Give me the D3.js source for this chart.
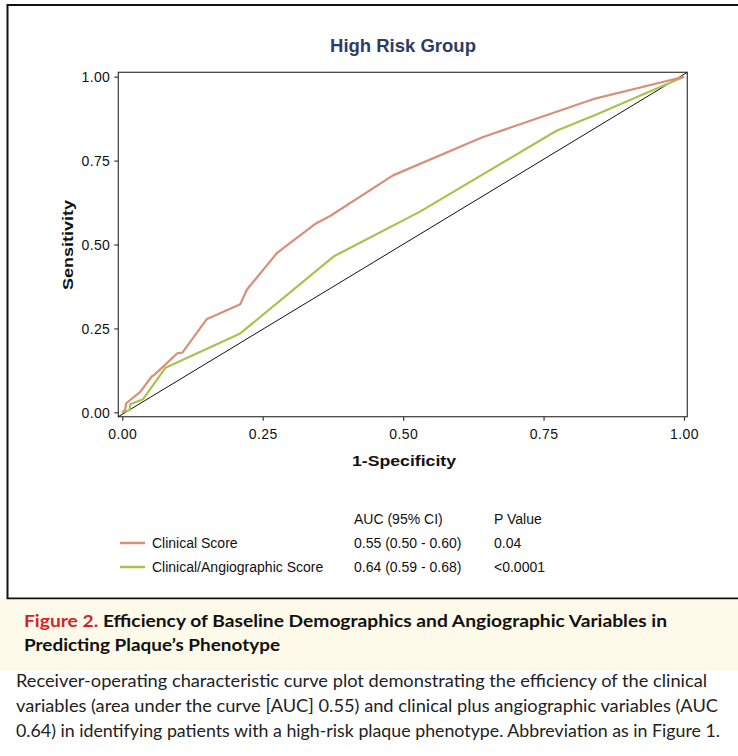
<!DOCTYPE html>
<html><head><meta charset="utf-8">
<script src="https://cdn.jsdelivr.net/npm/d3@7"></script>
<style>body{margin:0;background:#fff}svg{display:block}</style>
</head><body>
<script>
// ---- data ----
const chartTitle = "High Risk Group";
const xTicks = [0, 0.25, 0.5, 0.75, 1];
const yTicks = [0, 0.25, 0.5, 0.75, 1];
const clinicalFPR = [0, 0.005, 0.007, 0.032, 0.052, 0.058, 0.098, 0.107, 0.150, 0.210, 0.222, 0.275, 0.343, 0.370, 0.482, 0.640, 0.838, 1];
const clinicalTPR = [0, 0.007, 0.027, 0.061, 0.106, 0.113, 0.176, 0.178, 0.277, 0.322, 0.366, 0.474, 0.561, 0.585, 0.706, 0.819, 0.933, 1];
const angioFPR = [0, 0.013, 0.014, 0.037, 0.077, 0.210, 0.376, 0.530, 0.773, 0.842, 1];
const angioTPR = [0, 0.006, 0.024, 0.039, 0.133, 0.235, 0.464, 0.598, 0.839, 0.886, 1];
const seriesNames = ["Clinical Score", "Clinical/Angiographic Score"];
const seriesAUC = ["0.55 (0.50 - 0.60)", "0.64 (0.59 - 0.68)"];
const seriesP = ["0.04", "<0.0001"];
const seriesColors = ["#d98f78", "#a7c34d"];
const captionHead1 = ["Figure 2.", " Efficiency of Baseline Demographics and Angiographic Variables in"];
const captionHead2 = "Predicting Plaque\u2019s Phenotype";
const captionBody = [
  "Receiver-operating characteristic curve plot demonstrating the efficiency of the clinical",
  "variables (area under the curve [AUC] 0.55) and clinical plus angiographic variables (AUC",
  "0.64) in identifying patients with a high-risk plaque phenotype. Abbreviation as in Figure 1."
];

const W = 738, H = 756;
const svg = d3.select("body").append("svg").attr("width", W).attr("height", H);
svg.append("rect").attr("width", W).attr("height", H).attr("fill", "#fff");

// outer frame
svg.append("path").attr("d", "M738,5H7.5V598.5H738").attr("fill", "none").attr("stroke", "#111").attr("stroke-width", 2);
// caption background
svg.append("rect").attr("x", 0).attr("y", 599.5).attr("width", W).attr("height", 71.5).attr("fill", "#fefaea");

const x = d3.scaleLinear().domain([-0.0071, 1.0059]).range([118.3, 687.3]);
const y = d3.scaleLinear().domain([-0.0131, 1.0131]).range([416.7, 72.3]);

const font = "'Liberation Sans', Arial, Helvetica, sans-serif";

// title
svg.append("text").attr("x", 403).attr("y", 51.5).attr("text-anchor", "middle")
  .attr("font-family", font).attr("font-weight", "bold").attr("font-size", 18.5)
  .attr("fill", "#2e3b66").text(chartTitle);

// plot frame
svg.append("rect").attr("x", x.range()[0]).attr("y", y.range()[1])
  .attr("width", x.range()[1] - x.range()[0]).attr("height", y.range()[0] - y.range()[1])
  .attr("fill", "none").attr("stroke", "#3a3a3a").attr("stroke-width", 1.2);

// axes
const xAxis = svg.append("g").attr("transform", `translate(0,${y.range()[0]})`)
  .call(d3.axisBottom(x).tickValues(xTicks).tickFormat(d3.format(".2f")).tickSize(4).tickPadding(4));
const yAxis = svg.append("g").attr("transform", `translate(${x.range()[0]},0)`)
  .call(d3.axisLeft(y).tickValues(yTicks).tickFormat(d3.format(".2f")).tickSize(4).tickPadding(4));
[xAxis, yAxis].forEach(g => {
  g.select(".domain").remove();
  g.selectAll("line").attr("stroke", "#3a3a3a").attr("stroke-width", 1.2);
  g.selectAll("text").attr("font-family", font).attr("font-size", 14).attr("letter-spacing", 0.4).attr("fill", "#111");
});
xAxis.selectAll("text").attr("dy", "0.71em").attr("y", 12);
yAxis.selectAll("text").attr("x", -8).attr("dy", "0.36em");

// axis titles
svg.append("text").attr("x", 404).attr("y", 466).attr("text-anchor", "middle")
  .attr("font-family", font).attr("font-weight", "bold").attr("font-size", 14.5)
  .attr("textLength", 104).attr("lengthAdjust", "spacingAndGlyphs")
  .attr("fill", "#111").text("1-Specificity");
svg.append("text").attr("transform", "translate(72.5,245) rotate(-90)").attr("text-anchor", "middle")
  .attr("font-family", font).attr("font-weight", "bold").attr("font-size", 14.5)
  .attr("textLength", 90).attr("lengthAdjust", "spacingAndGlyphs")
  .attr("fill", "#111").text("Sensitivity");

// reference diagonal
svg.append("line").attr("x1", x.range()[0]).attr("y1", y.range()[0])
  .attr("x2", x.range()[1]).attr("y2", y.range()[1]).attr("stroke", "#111").attr("stroke-width", 1);

// curves
const line = d3.line().x(d => x(d[0])).y(d => y(d[1]));
const curves = [d3.zip(clinicalFPR, clinicalTPR), d3.zip(angioFPR, angioTPR)];
[1, 0].forEach(i => {
  svg.append("path").datum(curves[i]).attr("d", line).attr("fill", "none")
    .attr("stroke", seriesColors[i]).attr("stroke-width", 2.2).attr("stroke-linejoin", "round");
});

// legend table
const lf = "'Liberation Sans', Arial, sans-serif";
const lfs = 14;
const headY = 523.5, rowY = [547.5, 571.5];
svg.append("text").attr("x", 354).attr("y", headY).attr("font-family", lf).attr("font-size", lfs).attr("fill", "#111").text("AUC (95% CI)");
svg.append("text").attr("x", 494).attr("y", headY).attr("font-family", lf).attr("font-size", lfs).attr("fill", "#111").text("P Value");
seriesNames.forEach((n, i) => {
  svg.append("line").attr("x1", 120).attr("x2", 145).attr("y1", rowY[i] - 4.5).attr("y2", rowY[i] - 4.5)
    .attr("stroke", seriesColors[i]).attr("stroke-width", 2.5);
  svg.append("text").attr("x", 152).attr("y", rowY[i]).attr("font-family", lf).attr("font-size", lfs).attr("fill", "#111").text(n);
  svg.append("text").attr("x", 354).attr("y", rowY[i]).attr("font-family", lf).attr("font-size", lfs).attr("fill", "#111").text(seriesAUC[i]);
  svg.append("text").attr("x", 494).attr("y", rowY[i]).attr("font-family", lf).attr("font-size", lfs).attr("fill", "#111").text(seriesP[i]);
});

// caption
const cf = "Lato, 'Open Sans', sans-serif";
const h1 = svg.append("text").attr("x", 24).attr("y", 627).attr("font-family", cf).attr("font-weight", "bold")
  .attr("font-size", 17).attr("textLength", 643).attr("lengthAdjust", "spacingAndGlyphs");
h1.append("tspan").attr("fill", "#d2232a").text(captionHead1[0]);
h1.append("tspan").attr("fill", "#111").text(captionHead1[1]);
svg.append("text").attr("x", 24).attr("y", 651).attr("font-family", cf).attr("font-weight", "bold")
  .attr("font-size", 17).attr("fill", "#111").attr("textLength", 256).attr("lengthAdjust", "spacingAndGlyphs").text(captionHead2);
const bodyW = [691, 702, 704];
captionBody.forEach((t, i) => {
  svg.append("text").attr("x", 16).attr("y", 687 + i * 25).attr("font-family", cf)
    .attr("font-size", 17).attr("fill", "#222").attr("textLength", bodyW[i]).attr("lengthAdjust", "spacingAndGlyphs").text(t);
});
</script>
</body></html>
